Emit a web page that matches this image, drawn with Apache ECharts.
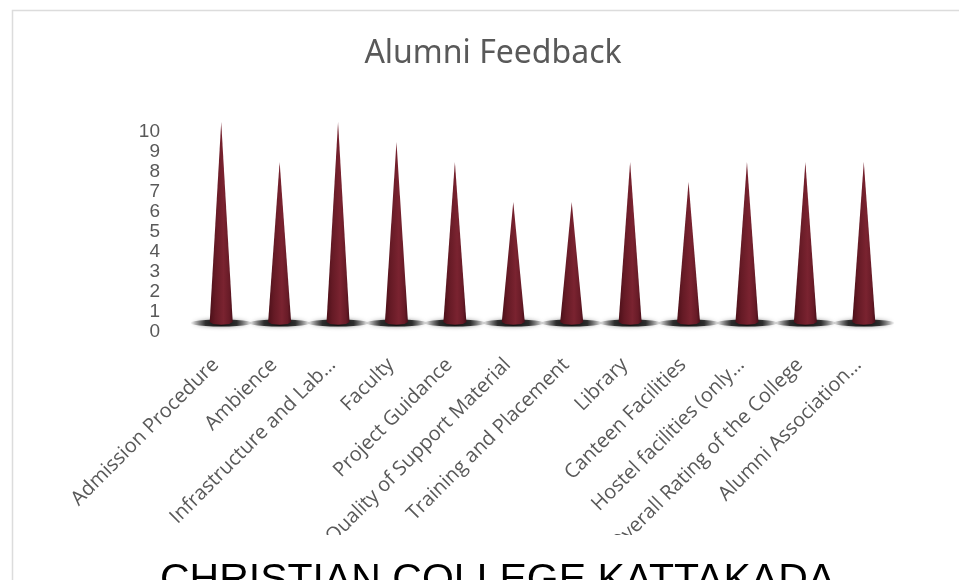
<!DOCTYPE html>
<html>
<head>
<meta charset="utf-8">
<title>Alumni Feedback</title>
<script src="https://cdn.jsdelivr.net/npm/echarts@6/dist/echarts.min.js"></script>
<style>
  html, body { margin: 0; padding: 0; background: #fff; }
  #main { width: 959px; height: 580px; }
</style>
</head>
<body>
<div id="main"></div>
<script>
// feedback items (as shown on the axis, long ones cut like in the sheet)
var categories = [
  'Admission Procedure',
  'Ambience',
  'Infrastructure and Lab…',
  'Faculty',
  'Project Guidance',
  'Quality of Support Material',
  'Training and Placement',
  'Library',
  'Canteen Facilities',
  'Hostel facilities (only…',
  'Overall Rating of the College',
  'Alumni Association…'
]
var scores = [10, 8, 10, 9, 8, 6, 6, 8, 7, 8, 8, 8]
var yTicks = [0, 1, 2, 3, 4, 5, 6, 7, 8, 9, 10]

var chart = echarts.init(document.getElementById('main'))

var coneData = []
for (var i = 0; i < scores.length; i++) {
  coneData.push([i, scores[i]])
}

// cone + floor shadow for every item
function renderCone(params, api) {
  var base = api.coord([api.value(0), 0])
  var top = api.coord([api.value(0), api.value(1)])
  var x = base[0], y = base[1]
  var half = 11.5

  // blurry floor shadow
  var pts = []
  var rx = 31, ry = 3.5
  for (var k = 0; k < 24; k++) {
    var a = k / 24 * Math.PI * 2
    pts.push([x + rx * Math.cos(a), y + 1 + ry * Math.sin(a)])
  }

  var cone = [
    [x - half, y],
    [top[0], top[1]],
    [x + half, y],
    [x + half * 0.7, y + 2],
    [x, y + 2.8],
    [x - half * 0.7, y + 2]
  ]

  return {
    type: 'group',
    children: [
      {
        type: 'polygon',
        shape: { points: pts },
        style: {
          fill: new echarts.graphic.LinearGradient(0, 0, 1, 0, [
            { offset: 0, color: 'rgba(0,0,0,0)' },
            { offset: 0.25, color: 'rgba(0,0,0,0.75)' },
            { offset: 0.5, color: 'rgba(0,0,0,0.9)' },
            { offset: 0.75, color: 'rgba(0,0,0,0.75)' },
            { offset: 1, color: 'rgba(0,0,0,0)' }
          ]),
          shadowBlur: 4,
          shadowColor: 'rgba(0,0,0,0.5)'
        }
      },
      {
        type: 'polygon',
        shape: { points: cone },
        style: {
          fill: new echarts.graphic.LinearGradient(0, 0, 1, 0, [
            { offset: 0, color: '#4c1019' },
            { offset: 0.25, color: '#651a25' },
            { offset: 0.6, color: '#7a2330' },
            { offset: 0.85, color: '#681b27' },
            { offset: 1, color: '#480f19' }
          ])
        }
      }
    ]
  }
}

chart.setOption({
  backgroundColor: '#fff',
  animation: false,
  title: {
    text: 'Alumni Feedback',
    left: 488,
    textAlign: 'center',
    top: 33,
    textStyle: {
      fontFamily: 'Noto Sans',
      fontSize: 32,
      fontWeight: 'normal',
      color: '#595959'
    }
  },
  grid: {
    left: 192,
    right: 66,
    top: 122,
    bottom: 258,
    containLabel: false
  },
  xAxis: {
    type: 'category',
    data: categories,
    axisLine: { show: false },
    axisTick: { show: false },
    axisLabel: {
      interval: 0,
      rotate: 45,
      margin: 34,
      padding: [0, 8, 0, 0],
      fontFamily: 'Open Sans',
      fontSize: 20,
      color: '#595959'
    }
  },
  yAxis: {
    type: 'value',
    min: 0,
    max: 10,
    interval: 1,
    axisLine: { show: false },
    axisTick: { show: false },
    splitLine: { show: false },
    axisLabel: {
      margin: 32,
      verticalAlign: 'top',
      fontFamily: 'Liberation Sans',
      fontSize: 19,
      color: '#595959',
      formatter: function (v) {
        return yTicks.indexOf(v) >= 0 ? String(v) : ''
      }
    }
  },
  series: [
    {
      type: 'custom',
      renderItem: renderCone,
      data: coneData,
      clip: false
    }
  ],
  graphic: [
    {
      // cut-off strip under the plot, like the original slide
      type: 'rect',
      left: 12,
      top: 535,
      shape: { width: 947, height: 45 },
      style: { fill: '#fff' },
      z: 100
    },
    {
      type: 'rect',
      left: 10,
      top: 8,
      shape: { width: 1000, height: 600 },
      style: { fill: 'none', stroke: '#dcdcdc', lineWidth: 1.5 },
      silent: true,
      z: 101
    },
    {
      type: 'text',
      left: 160,
      top: 560,
      style: {
        text: 'CHRISTIAN COLLEGE KATTAKADA',
        fontFamily: 'Liberation Sans',
        fontSize: 41,
        fill: '#000'
      },
      z: 102
    }
  ]
})
</script>
</body>
</html>
